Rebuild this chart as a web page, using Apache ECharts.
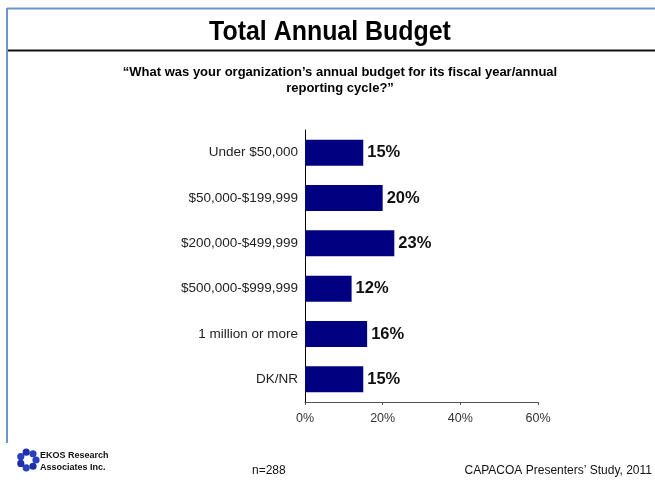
<!DOCTYPE html>
<html>
<head>
<meta charset="utf-8">
<script src="https://cdn.jsdelivr.net/npm/echarts@6/dist/echarts.min.js"></script>
<style>
  html, body { margin: 0; padding: 0; background: #fff; }
  #chart { width: 655px; height: 483px; }
</style>
</head>
<body>
<div id="chart"></div>
<script>
// categories top to bottom, as printed
const categories = ['Under $50,000', '$50,000-$199,999', '$200,000-$499,999', '$500,000-$999,999', '1 million or more', 'DK/NR']
const shares = [15, 20, 23, 12, 16, 15]
const axisTicks = [0, 20, 40, 60]

const font = 'Arial, "Liberation Sans", sans-serif'

// little ring of dots for the EKOS logo
let logo = []
for (let i = 0; i < 7; i++) {
  let a = i / 7 * Math.PI * 2
  logo.push({
    type: 'circle',
    shape: { cx: 28 + Math.cos(a) * 8, cy: 460 + Math.sin(a) * 8, r: 3.6 },
    style: { fill: i % 2 ? '#1c2fa8' : '#2740c0' }
  })
}

let chart = echarts.init(document.getElementById('chart'))
let option = {
  animation: false,
  grid: { left: 305, right: 117, top: 130, bottom: 81 },
  xAxis: {
    type: 'value',
    min: axisTicks[0],
    max: axisTicks[axisTicks.length - 1],
    interval: 20,
    splitLine: { show: false },
    axisLine: { show: true, lineStyle: { color: '#555', width: 1 } },
    axisTick: { show: true, length: 3, lineStyle: { color: '#555' } },
    axisLabel: { formatter: '{value}%', color: '#333', fontFamily: font, fontSize: 12.5, margin: 10 }
  },
  yAxis: {
    type: 'category',
    data: categories,
    inverse: true,
    axisLine: { show: true, lineStyle: { color: '#000', width: 1 } },
    axisTick: { show: false },
    axisLabel: { color: '#222', fontFamily: font, fontSize: 13.5, margin: 7 }
  },
  series: [
    {
      type: 'bar',
      data: shares,
      barWidth: 26,
      itemStyle: { color: '#000080' },
      label: {
        show: true,
        position: 'right',
        distance: 4,
        formatter: '{c}%',
        color: '#111',
        fontFamily: font,
        fontWeight: 'bold',
        fontSize: 16.5
      }
    }
  ],
  graphic: [
    { type: 'line', shape: { x1: 7, y1: 8.5, x2: 655, y2: 8.5 }, style: { stroke: '#6a96cc', lineWidth: 2 } },
    { type: 'line', shape: { x1: 7, y1: 8, x2: 7, y2: 443 }, style: { stroke: '#6a96cc', lineWidth: 2 } },
    { type: 'line', shape: { x1: 8, y1: 50.5, x2: 655, y2: 50.5 }, style: { stroke: '#111', lineWidth: 2 } },
    {
      // title is set a bit narrow, like the original slide font
      type: 'text', x: 330, y: 32, scaleX: 0.89,
      style: { text: 'Total Annual Budget', font: 'bold 28px ' + font, fill: '#000', align: 'center', verticalAlign: 'middle' }
    },
    {
      type: 'text', x: 340, y: 64,
      style: {
        text: '“What was your organization’s annual budget for its fiscal year/annual\nreporting cycle?”',
        font: 'bold 13px ' + font, fill: '#000', align: 'center', lineHeight: 16
      }
    },
    ...logo,
    {
      type: 'text', x: 40, y: 450,
      style: { text: 'EKOS Research\nAssociates Inc.', font: 'bold 9px ' + font, fill: '#111', lineHeight: 12 }
    },
    {
      type: 'text', x: 252, y: 465,
      style: { text: 'n=288', font: '12px ' + font, fill: '#111' }
    },
    {
      type: 'text', x: 652, y: 465,
      style: { text: 'CAPACOA Presenters’ Study, 2011', font: '12px ' + font, fill: '#111', align: 'right' }
    }
  ]
}
chart.setOption(option)
</script>
</body>
</html>
